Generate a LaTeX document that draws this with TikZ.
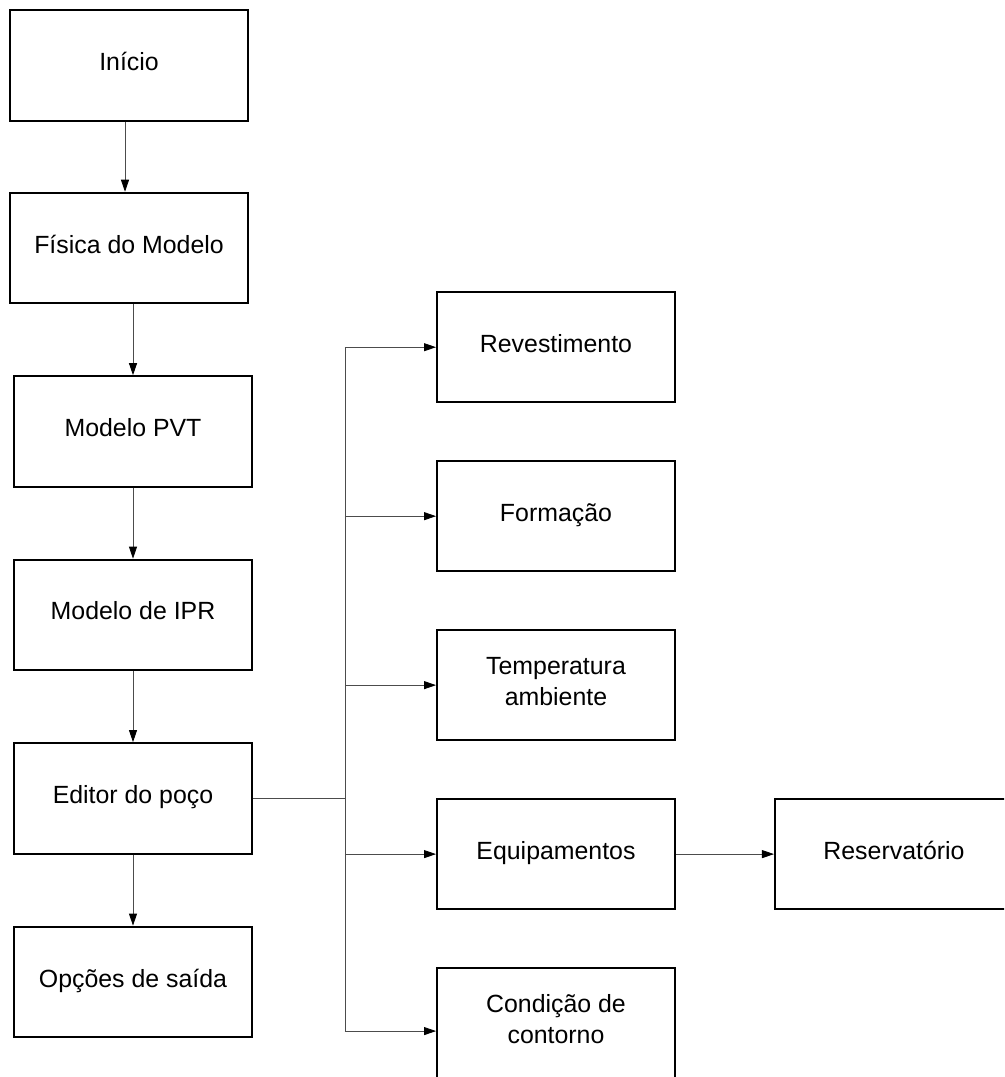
\documentclass[tikz,border=0pt]{standalone}
\usepackage{fontspec}
\setmainfont{Liberation Sans}
\usetikzlibrary{arrows.meta, positioning}

\begin{document}
\begin{tikzpicture}[
    node distance=1.775cm,
    box/.style={
        draw,
        line width=1.4pt,
        minimum width=5.95cm,
        minimum height=2.7625cm,
        text depth=5.6pt,
        align=center,
        font=\fontsize{17.7}{22}\selectfont
    },
    link/.style={draw=black!70, line width=0.6pt},
    arrow/.style={link, -{Triangle[length=0.3cm, width=0.2cm, color=black]}}
]
\useasboundingbox (0,0) rectangle (25.1,-26.925);
\clip (0,0) rectangle (25.1,-26.925);

% Left column
\node[box] (inicio) at (3.225,-1.6375) {Início};
\node[box, below=1.75cm of inicio] (fisica) {Física do Modelo};
\node[box, below=of fisica, xshift=0.1cm] (pvt) {Modelo PVT};
\node[box, below=of pvt] (ipr) {Modelo de IPR};
\node[box, below=of ipr] (editor) {Editor do poço};
\node[box, below=of editor] (opcoes) {Opções de saída};

% Right column
\node[box] (reves) at (13.9,-8.68) {Revestimento};
\node[box, below=1.4125cm of reves] (formacao) {Formação};
\node[box, below=1.4125cm of formacao] (temp) {Temperatura\\ambiente};
\node[box, below=1.4125cm of temp] (equip) {Equipamentos};
\node[box, below=1.4125cm of equip] (cond) {Condição de\\contorno};
\node[box, right=2.45cm of equip] (reserv) {Reservatório};

\coordinate[right=2.3cm of editor] (split);
\coordinate (condin) at ([yshift=-0.2cm]cond.west);

% Transitions
\draw[arrow] ([xshift=-0.1cm]inicio.south) -- ([xshift=-0.1cm]fisica.north);
\draw[arrow] (fisica.south -| pvt.north) -- (pvt.north);
\draw[arrow] (pvt) -- (ipr);
\draw[arrow] (ipr) -- (editor);
\draw[arrow] (editor) -- (opcoes);

\draw[link] (editor.east) -- (split);
\draw[link] (reves.west -| split) -- (condin -| split);
\foreach \n in {reves, formacao, temp, equip}
    \draw[arrow] (\n.west -| split) -- (\n.west);
\draw[arrow] (condin -| split) -- (condin);
\draw[arrow] (equip) -- (reserv);
\end{tikzpicture}
\end{document}
